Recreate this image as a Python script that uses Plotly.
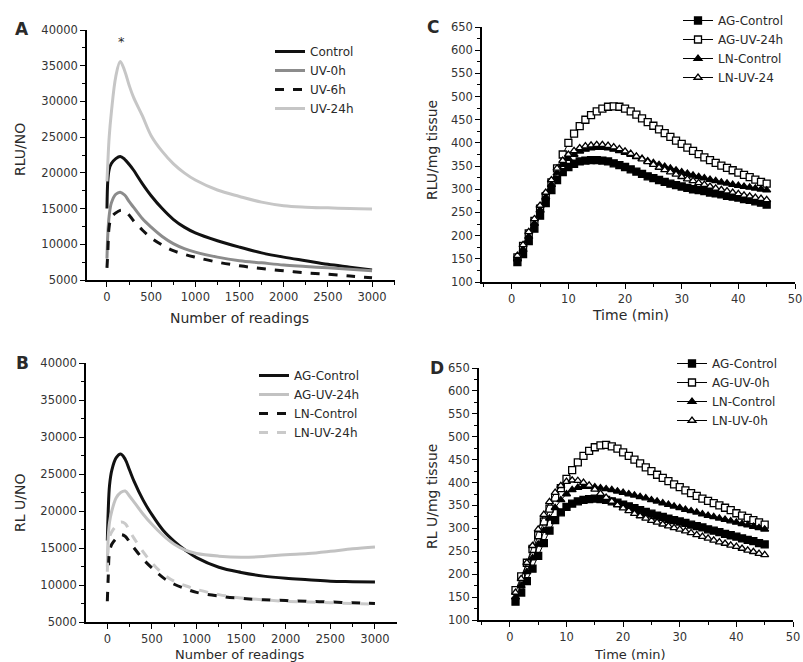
import plotly.graph_objects as go

W, H = 803, 662

# ---- panel A / B : luminescence vs number of readings ----
readings = [0, 10, 25, 50, 100, 150, 200, 250, 300, 400, 500, 625, 750, 875,
            1000, 1250, 1500, 1750, 2000, 2250, 2500, 2750, 3000]

a_control = [15000, 19000, 20500, 21300, 22000, 22300, 21900, 21200, 20400, 18500, 16800, 15000, 13500, 12400,
             11600, 10500, 9600, 8800, 8200, 7700, 7200, 6800, 6400]
a_uv0 = [8000, 11500, 14000, 15800, 17000, 17300, 16900, 16000, 15200, 13600, 12400, 11100, 10100, 9400,
         8900, 8200, 7700, 7400, 7100, 6900, 6700, 6500, 6300]
a_uv6 = [6700, 9000, 12500, 13800, 14400, 14750, 14700, 14100, 13300, 12000, 10900, 9900, 9100, 8600,
         8200, 7500, 7000, 6600, 6300, 6000, 5800, 5550, 5300]
a_uv24 = [18800, 21500, 25000, 28500, 33500, 35600, 34300, 32300, 30600, 28000, 25200, 23000, 21300, 20000,
          19000, 17600, 16700, 15900, 15400, 15200, 15100, 15000, 14950]

b_ag_control = [16000, 20000, 23500, 25500, 27200, 27700, 27000, 25500, 24000, 21500, 19500, 17400, 15900, 14700,
                13700, 12400, 11700, 11200, 10900, 10700, 10500, 10450, 10400]
b_ag_uv24 = [12500, 16500, 18500, 20000, 21800, 22500, 22700, 22000, 21200, 19600, 18200, 16700, 15500, 14700,
             14250, 13900, 13750, 13850, 14100, 14250, 14550, 14900, 15150]
b_ln_control = [7800, 11000, 14500, 15500, 16300, 16800, 16600, 15800, 15000, 13500, 12300, 11000, 10100, 9500,
                9000, 8500, 8200, 8000, 7900, 7800, 7700, 7600, 7500]
b_ln_uv24 = [11800, 15000, 16500, 17200, 18000, 18500, 18300, 17300, 16300, 14500, 13000, 11500, 10500, 9900,
             9400, 8700, 8250, 8000, 7800, 7700, 7600, 7500, 7400]

# ---- panel C / D : RLU per mg tissue vs time ----
minutes = list(range(1, 46))

c_ag_control = [143, 160, 188, 215, 243, 270, 298, 320, 337, 348, 355, 360, 362, 363, 363,
                362, 360, 356, 352, 348, 343, 338, 333, 328, 324, 320, 316, 312, 309, 306,
                303, 300, 298, 296, 293, 291, 289, 286, 284, 282, 279, 277, 274, 271, 267]
c_ag_uv24 = [153, 178, 205, 232, 258, 285, 315, 345, 375, 400, 420, 436, 450, 460, 468,
             474, 478, 479, 478, 474, 468, 461, 453, 445, 437, 429, 421, 413, 405, 398,
             390, 383, 376, 369, 363, 357, 351, 346, 341, 336, 331, 326, 321, 316, 312]
c_ln_control = [150, 170, 198, 226, 255, 283, 310, 335, 353, 366, 375, 382, 386, 389, 390,
                390, 389, 386, 383, 379, 375, 370, 366, 361, 357, 353, 349, 345, 341, 337,
                334, 330, 327, 324, 321, 318, 315, 313, 310, 308, 306, 304, 302, 300, 298]
c_ln_uv24 = [157, 180, 208, 236, 265, 293, 320, 345, 362, 375, 383, 389, 393, 395, 396,
             396, 394, 391, 387, 382, 377, 371, 365, 359, 353, 347, 342, 337, 332, 327,
             322, 318, 314, 310, 306, 302, 299, 296, 293, 290, 287, 285, 282, 280, 277]

d_ag_control = [140, 160, 185, 212, 240, 268, 295, 318, 335, 347, 354, 359, 362, 364, 365,
                364, 362, 359, 356, 352, 348, 344, 340, 336, 332, 328, 325, 321, 318, 315,
                312, 308, 305, 302, 298, 295, 292, 288, 285, 282, 278, 275, 272, 268, 265]
d_ag_uv0 = [165, 195, 225, 255, 285, 315, 343, 367, 388, 408, 427, 444, 458, 469, 477,
            481, 482, 479, 474, 466, 458, 450, 442, 433, 425, 417, 410, 403, 396, 390,
            383, 377, 371, 365, 360, 355, 350, 345, 340, 333, 328, 323, 318, 313, 308]
d_ln_control = [150, 175, 205, 235, 265, 295, 322, 345, 362, 375, 384, 389, 391, 391, 390,
                388, 386, 384, 381, 378, 375, 372, 369, 366, 362, 359, 355, 352, 348, 345,
                341, 338, 335, 331, 328, 325, 322, 319, 316, 313, 310, 307, 304, 301, 298]
d_ln_uv0 = [160, 190, 225, 262, 298, 330, 358, 378, 393, 402, 405, 404, 400, 394, 385,
            376, 367, 359, 351, 344, 338, 332, 327, 322, 317, 313, 309, 305, 301, 298,
            294, 290, 286, 282, 278, 274, 270, 267, 263, 260, 256, 252, 249, 245, 242]

FONT = "DejaVu Sans"
TXT = "#2a2a2a"


def px(x):
    return x / W


def py(y):
    return 1 - y / H


fig = go.Figure()


def curve(x, y, name, color, dash, width, xa, ya, leg):
    fig.add_trace(go.Scatter(x=x, y=y, name=name, mode="lines", line_shape="spline",
                             line=dict(color=color, dash=dash, width=width),
                             xaxis=xa, yaxis=ya, legend=leg))


def marked(x, y, name, symbol, hollow, xa, ya, leg):
    # hollow markers: white fill + black outline
    fig.add_trace(go.Scatter(x=x, y=y, name=name, mode="lines+markers",
                             line=dict(color="black", width=1),
                             marker=dict(symbol=symbol, size=7, color="white" if hollow else "black",
                                         line=dict(color="black", width=1.3)),
                             xaxis=xa, yaxis=ya, legend=leg))


# A
curve(readings, a_control, "Control", "#111111", "solid", 3, "x", "y", "legend")
curve(readings, a_uv0, "UV-0h", "#8c8c8c", "solid", 3, "x", "y", "legend")
curve(readings, a_uv6, "UV-6h", "#111111", "dash", 3, "x", "y", "legend")
curve(readings, a_uv24, "UV-24h", "#c6c6c6", "solid", 3, "x", "y", "legend")
# B
curve(readings, b_ag_control, "AG-Control", "#111111", "solid", 3, "x2", "y2", "legend2")
curve(readings, b_ag_uv24, "AG-UV-24h", "#c2c2c2", "solid", 3, "x2", "y2", "legend2")
curve(readings, b_ln_control, "LN-Control", "#111111", "dash", 3, "x2", "y2", "legend2")
curve(readings, b_ln_uv24, "LN-UV-24h", "#cacaca", "dash", 3, "x2", "y2", "legend2")
# C
marked(minutes, c_ag_control, "AG-Control", "square", False, "x3", "y3", "legend3")
marked(minutes, c_ag_uv24, "AG-UV-24h", "square", True, "x3", "y3", "legend3")
marked(minutes, c_ln_control, "LN-Control", "triangle-up", False, "x3", "y3", "legend3")
marked(minutes, c_ln_uv24, "LN-UV-24", "triangle-up", True, "x3", "y3", "legend3")
# D
marked(minutes, d_ag_control, "AG-Control", "square", False, "x4", "y4", "legend4")
marked(minutes, d_ag_uv0, "AG-UV-0h", "square", True, "x4", "y4", "legend4")
marked(minutes, d_ln_control, "LN-Control", "triangle-up", False, "x4", "y4", "legend4")
marked(minutes, d_ln_uv0, "LN-UV-0h", "triangle-up", True, "x4", "y4", "legend4")


def axis(domain, rng, dtick, minor, anchor):
    return dict(domain=domain, range=rng, dtick=dtick, tick0=0, anchor=anchor, tickformat="d",
                showline=True, linecolor="black", linewidth=1.5, mirror=False,
                ticks="outside", ticklen=5, tickwidth=1.3, tickcolor="black",
                minor=dict(ticks="outside", ticklen=3, tickwidth=1.1, tickcolor="black", dtick=minor),
                showgrid=False, zeroline=False, automargin=False,
                tickfont=dict(family=FONT, size=11.5, color="#333333"))


def legend(x, y):
    return dict(x=x, y=y, xanchor="left", yanchor="top", bgcolor="rgba(0,0,0,0)",
                font=dict(family=FONT, size=12, color=TXT), tracegroupgap=0, itemwidth=30)


layout = dict(
    width=W, height=H, showlegend=True,
    paper_bgcolor="white", plot_bgcolor="white",
    margin=dict(l=0, r=0, t=0, b=0, autoexpand=False),
    xaxis=axis([px(87), px(395)], [-226, 3260], 500, 250, "y"),
    yaxis=axis([py(280), py(30)], [5000, 40000], 5000, 2500, "x"),
    xaxis2=axis([px(86), px(397)], [-239, 3247], 500, 250, "y2"),
    yaxis2=axis([py(622), py(363)], [5000, 40000], 5000, 2500, "x2"),
    xaxis3=axis([px(482), px(795)], [-5.25, 50], 10, 5, "y3"),
    yaxis3=axis([py(282), py(27)], [100, 650], 50, 25, "x3"),
    xaxis4=axis([px(479), px(793)], [-5.45, 50], 10, 5, "y4"),
    yaxis4=axis([py(620), py(368)], [100, 650], 50, 25, "x4"),
    legend=legend(px(270), py(37)),
    legend2=legend(px(254), py(361)),
    legend3=legend(px(678), py(6)),
    legend4=legend(px(672), py(349)),
)
fig.update_layout(**layout)

notes = [
    ("A", 22, 29, 17, True, 0), ("B", 22, 363, 17, True, 0),
    ("C", 433, 27, 17, True, 0), ("D", 437, 368, 17, True, 0),
    ("Number of readings", 240, 318, 14, False, 0), ("Number of readings", 240, 654, 13, False, 0),
    ("Time (min)", 630, 315, 14, False, 0), ("Time (min)", 630, 654, 13, False, 0),
    ("RLU/NO", 20, 150, 14, False, -90), ("RL U/NO", 20, 503, 14, False, -90),
    ("RLU/mg tissue", 432, 150, 14, False, -90), ("RL U/mg tissue", 432, 497, 14, False, -90),
]
for text, x, y, size, bold, ang in notes:
    fig.add_annotation(text=f"<b>{text}</b>" if bold else text, xref="paper", yref="paper",
                       x=px(x), y=py(y), xanchor="center", yanchor="middle", showarrow=False,
                       textangle=ang, font=dict(family=FONT, size=size, color=TXT))

# significance mark over the UV-24h peak
fig.add_annotation(text="*", x=160, y=37000, xref="x", yref="y", showarrow=False,
                   yanchor="bottom", font=dict(family=FONT, size=13, color=TXT))

# drop the browser's default body margin so the figure sits at the page corner
fig.write_html("out.html", config={"displayModeBar": False},
               post_script="document.body.style.margin='0';")
